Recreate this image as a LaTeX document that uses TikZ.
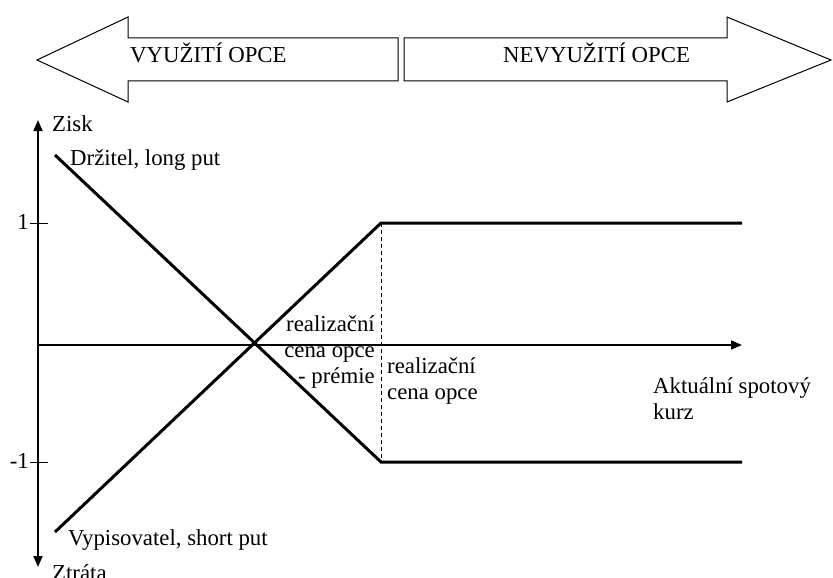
\documentclass[tikz,border=0pt]{standalone}
\usepackage{fontspec}
\setmainfont{Liberation Serif}
\usetikzlibrary{arrows.meta,positioning}

\tikzset{
  bigarrow/.style={draw, line width=1pt, fill=white},
  axis/.style={line width=1.6pt, -{Triangle[length=11pt,width=9pt]}},
  payoff/.style={line width=3pt},
  lbl/.style={inner sep=0pt, font=\fontsize{22.8}{26}\selectfont},
}

\begin{document}
\begin{tikzpicture}[x=1pt, y=-1pt]
\useasboundingbox (0,0) rectangle (833,578);

% big arrows on top
\draw[bigarrow] (37,60) -- (128,17) -- (128,38) -- (398,38) -- (398,81)
  -- (128,81) -- (128,102) -- cycle;
\draw[bigarrow] (831,60) -- (727,17) -- (727,38) -- (404,38) -- (404,81)
  -- (727,81) -- (727,102) -- cycle;
\node[lbl, anchor=base west] (vyuziti) at (130,63) {VYUŽITÍ OPCE};
\node[lbl, anchor=base west] (nevyuziti) at (503,63) {NEVYUŽITÍ OPCE};

% axes
\coordinate (O) at (38,345);
\coordinate (ytop) at (38,120);
\coordinate (ybot) at (38,567);
\coordinate (xend) at (742,345);
\draw[axis] (O) -- (ytop);
\draw[axis] (O) -- (ybot);
\draw[axis] (O) -- (xend);
\node[lbl, anchor=base west] (zisk) at (52,131) {Zisk};
\node[lbl, anchor=base west] (ztrata) at (52,580) {Ztráta};

\foreach \y/\t/\n in {223/1/plus, 462/-1/minus}
{
  \draw[line width=1pt] (30,\y) -- (48,\y);
  \node[lbl, anchor=base east] (tick\n) at (29,\y+6) {\t};
}

% payoff lines
\coordinate (lpstart) at (55,155);
\coordinate (lpkink) at (381,462);
\coordinate (lpend) at (742,462);
\coordinate (spstart) at (55,532);
\coordinate (spkink) at (381,223);
\coordinate (spend) at (742,223);
\draw[payoff] (lpstart) -- (lpkink) -- (lpend);
\draw[payoff] (spstart) -- (spkink) -- (spend);
\draw[line width=1pt, dash pattern=on 4pt off 3pt] (spkink) -- (lpkink);

\node[lbl, anchor=base west] (drzitel) at (70,165) {Držitel, long put};
\node[lbl, anchor=base west] (vypisovatel) at (68,545) {Vypisovatel, short put};
\node[lbl, anchor=north east, align=right] (breakeven) at (375,315)
  {realizační\\cena opce\\- prémie};
\node[lbl, anchor=north west, align=left] (strike) at (387,357)
  {realizační\\cena opce};
\node[lbl, anchor=north west, align=left] (spot) at (653,377)
  {Aktuální spotový\\kurz};
\end{tikzpicture}
\end{document}
